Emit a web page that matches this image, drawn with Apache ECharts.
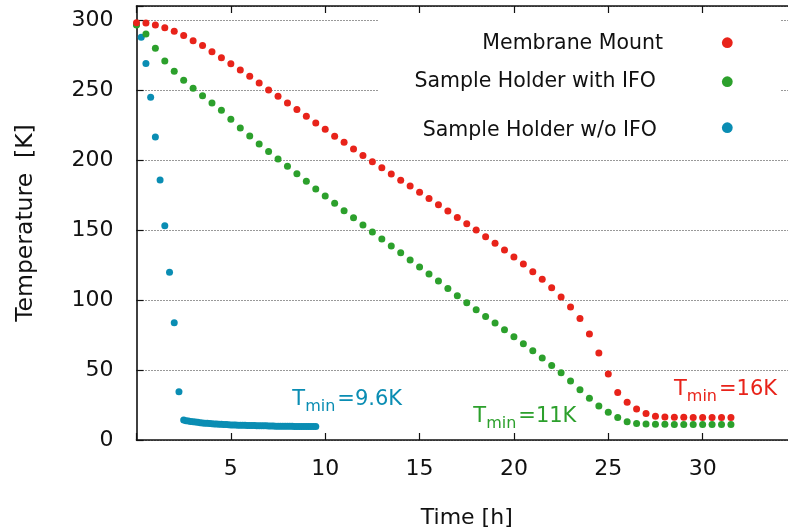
<!DOCTYPE html>
<html>
<head>
<meta charset="utf-8">
<script src="https://cdn.jsdelivr.net/npm/echarts@6/dist/echarts.min.js"></script>
<style>
  html, body { margin: 0; padding: 0; background: #ffffff; }
  #chart { width: 788px; height: 532px; }
</style>
</head>
<body>
<div id="chart"></div>
<script>
// Cool-down curves of the cryostat stages
const seriesNames = ['Membrane Mount', 'Sample Holder with IFO', 'Sample Holder w/o IFO'];
const seriesColors = ['#e8231a', '#2ca02c', '#0a8db3'];
const minLabels = ['16K', '11K', '9.6K'];

// time stamps [h] for the two slow curves (half-hour steps)
const timeSlow = [0, 0.5, 1, 1.5, 2, 2.5, 3, 3.5, 4, 4.5, 5, 5.5, 6, 6.5, 7, 7.5, 8, 8.5, 9, 9.5,
  10, 10.5, 11, 11.5, 12, 12.5, 13, 13.5, 14, 14.5, 15, 15.5, 16, 16.5, 17, 17.5, 18, 18.5, 19, 19.5,
  20, 20.5, 21, 21.5, 22, 22.5, 23, 23.5, 24, 24.5, 25, 25.5, 26, 26.5, 27, 27.5, 28, 28.5, 29, 29.5,
  30, 30.5, 31, 31.5];

const membraneMount = [298.0, 297.9, 296.5, 294.5, 291.9, 289.0, 285.2, 281.7, 277.4, 273.1,
  268.8, 264.3, 259.8, 255.0, 250.0, 245.5, 240.7, 236.0, 231.2, 226.4,
  221.9, 216.9, 212.6, 207.9, 203.3, 198.8, 194.5, 190.0, 185.5, 181.4,
  176.9, 172.5, 168.1, 163.6, 159.0, 154.5, 150.0, 145.2, 140.5, 135.7,
  130.7, 125.7, 120.2, 114.8, 108.8, 102.1, 95.0, 86.7, 75.7, 62.1,
  47.1, 34.0, 26.9, 22.1, 19.0, 16.9, 16.5, 16.3, 16.2, 16.1, 16.0, 16.0, 16.0, 16.0];

const holderWithIFO = [296.5, 290.0, 279.8, 270.8, 263.4, 257.0, 251.2, 245.9, 240.7, 235.6,
  229.1, 222.9, 217.1, 211.5, 206.0, 200.7, 195.5, 190.2, 184.8, 179.3,
  174.3, 169.1, 163.8, 158.8, 153.6, 148.6, 143.6, 138.6, 133.8, 128.6,
  123.6, 118.6, 113.6, 108.3, 103.1, 98.1, 93.1, 88.3, 83.6, 78.8,
  73.8, 68.8, 63.8, 58.6, 53.3, 48.1, 42.1, 35.9, 29.8, 24.3,
  19.8, 16.0, 13.1, 11.7, 11.4, 11.3, 11.2, 11.1, 11.1, 11.0, 11.0, 11.0, 11.0, 11.0];

// time stamps [h] for the fast curve (quarter-hour, then 7.5 min steps)
const timeFast = [0, 0.25, 0.5, 0.75, 1, 1.25, 1.5, 1.75, 2, 2.25,
  2.5, 2.625, 2.75, 2.875, 3, 3.125, 3.25, 3.375, 3.5, 3.625, 3.75, 3.875,
  4, 4.125, 4.25, 4.375, 4.5, 4.625, 4.75, 4.875, 5, 5.125, 5.25, 5.375, 5.5, 5.625, 5.75, 5.875,
  6, 6.125, 6.25, 6.375, 6.5, 6.625, 6.75, 6.875, 7, 7.125, 7.25, 7.375, 7.5, 7.625, 7.75, 7.875,
  8, 8.125, 8.25, 8.375, 8.5, 8.625, 8.75, 8.875, 9, 9.125, 9.25, 9.375, 9.5];

const holderWithoutIFO = [297.0, 287.6, 269.0, 244.8, 216.4, 185.7, 153.1, 119.8, 83.8, 34.5,
  14.2, 13.8, 13.5, 13.2, 13.0, 12.8, 12.6, 12.4, 12.2, 12.0, 11.9, 11.7,
  11.6, 11.5, 11.4, 11.3, 11.2, 11.1, 11.0, 10.9, 10.8, 10.8, 10.7, 10.6, 10.6, 10.5, 10.5, 10.4,
  10.4, 10.3, 10.3, 10.2, 10.2, 10.2, 10.1, 10.1, 10.0, 10.0, 10.0, 9.9, 9.9, 9.9, 9.9, 9.8,
  9.8, 9.8, 9.8, 9.7, 9.7, 9.7, 9.7, 9.7, 9.6, 9.6, 9.6, 9.6, 9.6];

const xTicks = [5, 10, 15, 20, 25, 30];
const yTicks = [0, 50, 100, 150, 200, 250, 300];

const FONT = '"DejaVu Sans", Verdana, sans-serif';
const INK = '#111111';

const pairs = (xs, ys) => xs.map((x, i) => [x, ys[i]]);

function measure(text, size) {
  const ctx = document.createElement('canvas').getContext('2d');
  ctx.font = size + 'px ' + FONT;
  return ctx.measureText(text).width;
}

// "T_min=..." annotation, left edge at x, text baseline at y
function minLabel(x, baseline, value, color) {
  const big = 21, small = 16;
  const wT = measure('T', big);
  const wMin = measure('min', small);
  return {
    type: 'group', x: x, y: baseline, z: 5,
    children: [
      { type: 'text', x: 0, y: -0.346 * big,
        style: { text: 'T', font: big + 'px ' + FONT, fill: color, verticalAlign: 'middle', align: 'left' } },
      { type: 'text', x: wT, y: 5.6 - 0.346 * small,
        style: { text: 'min', font: small + 'px ' + FONT, fill: color, verticalAlign: 'middle', align: 'left' } },
      { type: 'text', x: wT + wMin + 2, y: -0.346 * big,
        style: { text: '=' + value, font: big + 'px ' + FONT, fill: color, verticalAlign: 'middle', align: 'left' } }
    ]
  };
}

// key: right-aligned names with a dot to the right, on an opaque box
const keyRows = [
  { textRight: 663, textMid: 43.3, dotY: 42.7 },
  { textRight: 656, textMid: 82.0, dotY: 81.7 },
  { textRight: 657, textMid: 130.3, dotY: 127.7 }
];
const keyGraphics = [
  { type: 'rect', z: 1, shape: { x: 378, y: 14, width: 402, height: 140 }, style: { fill: '#ffffff' } }
];
keyRows.forEach((row, i) => {
  keyGraphics.push({
    type: 'text', z: 5, x: row.textRight, y: row.textMid,
    style: { text: seriesNames[i], font: '20.5px ' + FONT, fill: INK, align: 'right', verticalAlign: 'middle' }
  });
  keyGraphics.push({
    type: 'circle', z: 5, shape: { cx: 727.3, cy: row.dotY, r: 5.4 }, style: { fill: seriesColors[i] }
  });
});

const chart = echarts.init(document.getElementById('chart'), null, { renderer: 'canvas' });

const axisLineStyle = { color: INK, width: 1.6 };
const tickStyle = { color: INK, width: 1.2 };

chart.setOption({
  animation: false,
  backgroundColor: '#ffffff',
  grid: { left: 136.5, right: -9, top: 6, bottom: 92, containLabel: false, outerBoundsMode: 'none' },
  xAxis: [
    {
      type: 'value', position: 'bottom', min: 0, max: 35, interval: 5,
      name: 'Time [h]', nameLocation: 'middle', nameGap: 67,
      nameTextStyle: { fontFamily: FONT, fontSize: 22, color: INK },
      axisLine: { show: true, onZero: false, lineStyle: axisLineStyle },
      axisTick: { show: true, inside: true, length: 7, lineStyle: tickStyle },
      axisLabel: {
        fontFamily: FONT, fontSize: 22, color: INK, margin: 18,
        formatter: v => (xTicks.indexOf(v) >= 0 ? String(v) : '')
      },
      splitLine: { show: false }
    },
    {
      type: 'value', position: 'top', min: 0, max: 35, interval: 5,
      axisLine: { show: true, onZero: false, lineStyle: axisLineStyle },
      axisTick: { show: true, inside: true, length: 7, lineStyle: tickStyle },
      axisLabel: { show: false },
      splitLine: { show: false }
    }
  ],
  yAxis: {
    type: 'value', min: 0, max: 310, interval: 50,
    name: 'Temperature  [K]', nameLocation: 'middle', nameGap: 99, nameRotate: 90,
    nameTextStyle: { fontFamily: FONT, fontSize: 23.5, color: INK },
    axisLine: { show: true, onZero: false, lineStyle: axisLineStyle },
    axisTick: { show: true, inside: true, length: 7, lineStyle: tickStyle },
    axisLabel: {
      fontFamily: FONT, fontSize: 22, color: INK, margin: 23,
      formatter: v => (yTicks.indexOf(v) >= 0 ? String(v) : '')
    },
    splitLine: { show: true, lineStyle: { color: '#333333', width: 1, type: [1, 2] } }
  },
  graphic: keyGraphics.concat([
    minLabel(292.3, 406.7, minLabels[2], seriesColors[2]),
    minLabel(473.3, 424.0, minLabels[1], seriesColors[1]),
    minLabel(674.0, 396.7, minLabels[0], seriesColors[0])
  ]),
  series: [
    {
      name: seriesNames[2], type: 'scatter', z: 2, symbol: 'circle', symbolSize: 7,
      itemStyle: { color: seriesColors[2], opacity: 1 }, data: pairs(timeFast, holderWithoutIFO)
    },
    {
      name: seriesNames[1], type: 'scatter', z: 2, symbol: 'circle', symbolSize: 7,
      itemStyle: { color: seriesColors[1], opacity: 1 }, data: pairs(timeSlow, holderWithIFO)
    },
    {
      name: seriesNames[0], type: 'scatter', z: 2, symbol: 'circle', symbolSize: 7,
      itemStyle: { color: seriesColors[0], opacity: 1 }, data: pairs(timeSlow, membraneMount)
    }
  ]
});
</script>
</body>
</html>
